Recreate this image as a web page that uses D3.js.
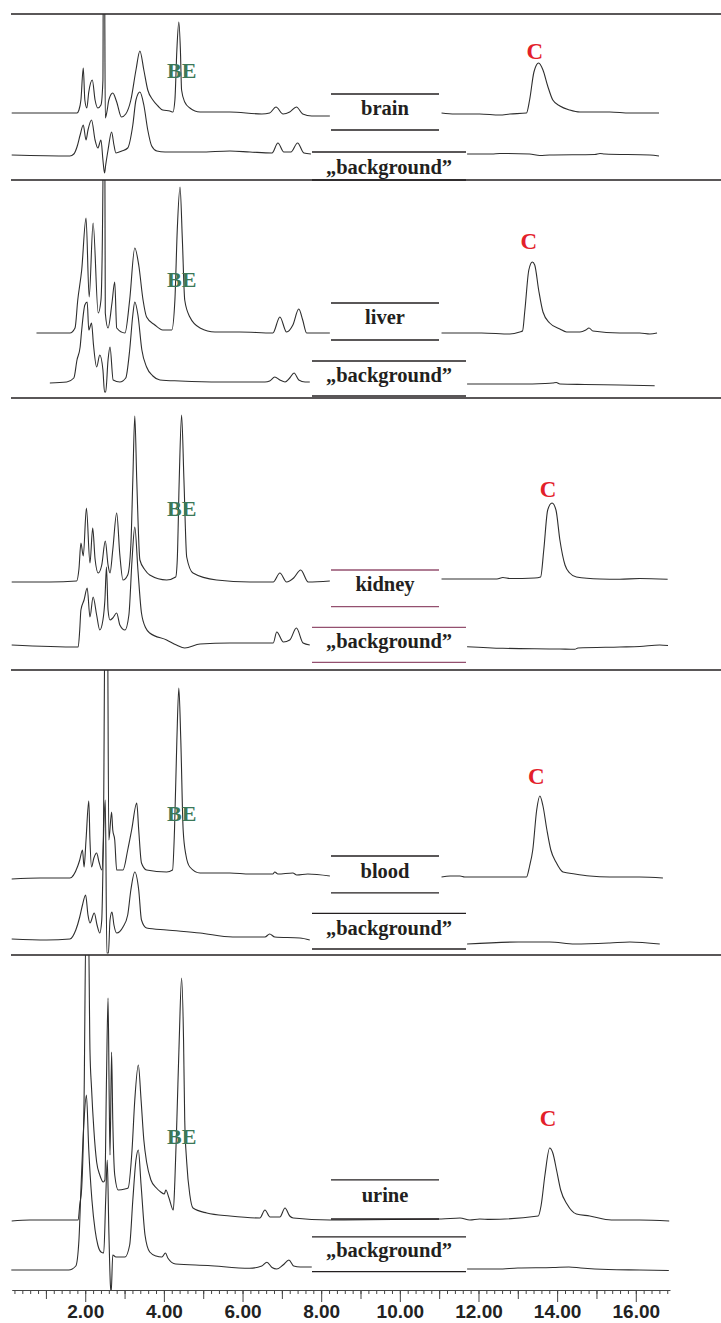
<!DOCTYPE html>
<html>
<head>
<meta charset="utf-8">
<script src="https://cdn.jsdelivr.net/npm/d3@7"></script>
<style>
  body { margin: 0; background: #fff; }
  svg { display: block; }
</style>
</head>
<body>
<div id="chart"></div>
<script>
// chromatogram traces: [retention time (min), signal above baseline (rel. units)]
// null marks where the trace is interrupted by a label
const brainSample = [
  [0.13,0],[0.85,0],[1.79,0],[1.84,3],[1.89,13],[1.95,45],[1.99,13],[2.04,5],[2.09,21],[2.18,33],[2.25,13],[2.32,5],[2.40,8],[2.45,33],[2.46,150],[2.49,150],[2.51,-5],[2.55,1],[2.60,13],[2.70,20],[2.80,11],[2.92,-4],[3.03,-1],[3.16,13],[3.29,43],[3.39,62],[3.49,43],[3.59,23],[3.72,13],[3.85,7],[3.97,3],[4.15,2],[4.23,1],[4.28,13],[4.33,63],[4.38,91],[4.42,63],[4.45,23],[4.53,11],[4.66,5],[4.92,1],[5.68,1],[6.49,-1],[6.69,0],[6.85,6],[7.03,-1],[7.20,1],[7.37,6],[7.53,-1],[7.76,-3],[8.22,-3],
  null,
  [11.06,0],[11.40,-1],[12.03,-1],[12.54,-2],[12.80,-1],[13.22,0],[13.30,13],[13.41,41],[13.53,50],[13.64,43],[13.76,27],[13.89,13],[14.07,7],[14.32,3],[14.58,1],[15.34,1],[15.85,0],[16.59,0]
];
const brainBackground = [
  [0.13,0],[1.61,-1],[1.71,1],[1.79,8],[1.87,20],[1.95,30],[2.02,15],[2.07,25],[2.16,35],[2.25,15],[2.32,7],[2.40,15],[2.45,-5],[2.49,-18],[2.52,-10],[2.58,5],[2.67,23],[2.73,10],[2.78,2],[2.93,4],[3.08,7],[3.21,30],[3.29,55],[3.39,63],[3.49,50],[3.59,25],[3.69,9],[3.82,4],[4.03,3],[4.92,3],[5.68,4],[6.19,3],[6.75,2],[6.90,12],[7.05,3],[7.23,3],[7.40,12],[7.56,2],[7.74,1],
  null,
  [11.71,1],[12.34,1],[12.54,1.5],[13.30,1],[13.56,-0.5],[13.81,0],[14.96,0.5],[15.09,1.5],[15.21,1],[16.36,0],[16.59,-1]
];
const liverSample = [
  [0.76,0],[1.61,0],[1.74,5],[1.81,33],[1.91,63],[2.02,115],[2.10,36],[2.20,110],[2.33,20],[2.40,33],[2.45,150],[2.46,300],[2.49,300],[2.51,20],[2.58,5],[2.68,30],[2.75,51],[2.80,5],[3.01,0],[3.13,33],[3.26,85],[3.36,68],[3.47,33],[3.56,16],[3.77,8],[3.97,3],[4.20,3],[4.28,33],[4.34,103],[4.41,146],[4.47,93],[4.53,33],[4.66,16],[4.92,5],[5.30,1],[5.93,1],[6.77,0],[6.95,16],[7.12,1],[7.28,8],[7.43,24],[7.53,13],[7.63,0],[8.22,0],
  null,
  [11.06,0],[12.08,0],[12.80,-1],[13.05,1],[13.12,2],[13.18,23],[13.28,63],[13.37,71],[13.43,68],[13.53,43],[13.64,21],[13.81,10],[14.07,4],[14.24,1],[14.58,1],[14.73,3],[14.81,5],[14.91,2],[15.59,0],[16.10,0],[16.36,-1],[16.54,0]
];
const liverBackground = [
  [1.10,0],[1.53,1],[1.71,5],[1.79,23],[1.87,36],[1.91,53],[1.99,78],[2.05,81],[2.09,53],[2.16,60],[2.21,38],[2.29,16],[2.37,28],[2.45,13],[2.49,-9],[2.52,-9],[2.58,23],[2.63,36],[2.71,3],[2.88,1],[3.03,5],[3.13,33],[3.21,68],[3.26,81],[3.34,68],[3.44,33],[3.56,16],[3.72,7],[3.90,3],[4.41,2],[5.42,1],[6.57,1],[6.69,2],[6.82,6],[6.95,3],[7.08,1],[7.20,5],[7.31,10],[7.43,3],[7.59,1],[7.71,1],
  null,
  [11.71,-1],[13.05,-1],[13.69,-0.5],[13.89,0],[13.98,0.5],[14.07,-1],[14.70,-1.5],[15.59,-2],[16.48,-2.7]
];
const kidneySample = [
  [0.13,0],[1.10,0],[1.78,1],[1.84,13],[1.89,39],[1.95,26],[2.03,74],[2.12,19],[2.19,54],[2.25,23],[2.33,9],[2.42,17],[2.51,41],[2.58,17],[2.63,9],[2.70,32],[2.80,69],[2.88,27],[2.96,2],[3.08,7],[3.16,37],[3.21,102],[3.26,166],[3.31,102],[3.39,22],[3.52,12],[3.64,7],[4.07,2],[4.30,5],[4.34,22],[4.39,102],[4.45,167],[4.51,102],[4.58,25],[4.74,9],[5.34,2],[6.19,0],[6.78,0],[6.95,9],[7.12,0],[7.30,4],[7.48,12],[7.67,0],[8.22,1],
  null,
  [11.06,3],[12.47,3],[12.62,4.5],[12.80,3.5],[13.43,4],[13.58,5],[13.66,32],[13.76,72],[13.87,79],[13.97,72],[14.07,42],[14.20,17],[14.32,9],[14.49,5],[15.09,3],[15.59,2.7],[16.10,3.5],[16.81,2.7]
];
const kidneyBackground = [
  [0.13,1],[1.82,-1],[1.86,16],[1.89,36],[1.97,46],[2.05,58],[2.12,29],[2.20,49],[2.29,31],[2.37,16],[2.45,26],[2.50,46],[2.54,79],[2.58,36],[2.63,26],[2.70,28],[2.80,33],[2.88,21],[3.01,16],[3.11,31],[3.19,86],[3.26,119],[3.34,76],[3.43,33],[3.54,18],[3.64,13],[4.07,6],[4.32,1],[4.53,-2],[4.92,2],[5.68,3],[6.78,3],[6.87,14],[7.04,4],[7.20,6],[7.37,18],[7.54,3],[7.71,1],
  null,
  [11.71,-0.7],[12.62,-2.3],[14.07,-3],[14.45,-3.3],[14.53,-2],[15.59,-1],[16.10,-0.5],[16.61,1],[16.82,0.5]
];
const bloodSample = [
  [0.13,-1],[0.85,0],[1.61,0],[1.81,12],[1.86,18],[1.93,28],[1.97,11],[2.02,38],[2.09,77],[2.12,38],[2.16,11],[2.22,20],[2.29,25],[2.35,16],[2.42,8],[2.46,38],[2.51,300],[2.56,300],[2.60,38],[2.67,66],[2.70,48],[2.75,38],[2.80,8],[2.96,8],[3.08,28],[3.18,48],[3.31,75],[3.36,48],[3.43,15],[3.56,8],[4.07,6],[4.22,8],[4.27,48],[4.33,138],[4.38,190],[4.43,138],[4.49,48],[4.56,23],[4.66,11],[4.92,5],[5.68,5],[6.19,4],[6.77,4],[6.82,6],[6.90,4],[7.28,5],[7.38,3],[7.66,4],[8.22,2],
  null,
  [11.06,1],[11.28,2],[11.53,2],[11.65,1],[12.54,1],[13.22,1],[13.30,12],[13.38,28],[13.48,68],[13.56,82],[13.64,72],[13.74,48],[13.84,28],[13.97,16],[14.15,6],[14.45,4],[14.83,2],[15.34,1],[16.10,1],[16.69,0]
];
const bloodBackground = [
  [0.13,1],[1.02,0],[1.61,1],[1.76,10],[1.86,23],[1.93,35],[2.01,45],[2.07,25],[2.12,17],[2.23,27],[2.30,15],[2.37,7],[2.42,20],[2.47,110],[2.51,140],[2.55,-13],[2.59,-13],[2.63,20],[2.68,28],[2.73,15],[2.80,7],[2.96,13],[3.08,25],[3.16,50],[3.26,68],[3.36,50],[3.43,20],[3.56,12],[4.07,10],[4.92,7],[5.75,3],[6.57,3],[6.69,6],[6.82,3],[7.46,2],[7.71,0],
  null,
  [11.71,-4],[13.01,-2],[13.81,-2],[14.45,-4],[15.34,-3],[15.85,-2],[16.61,-4]
];
const urineSample = [
  [0.13,-1],[0.59,0],[1.82,0],[1.86,15],[1.91,32],[1.97,120],[2.02,300],[2.08,300],[2.12,170],[2.16,132],[2.22,90],[2.29,58],[2.37,45],[2.46,38],[2.50,40],[2.54,140],[2.58,222],[2.61,120],[2.63,65],[2.67,168],[2.70,100],[2.75,45],[2.84,30],[3.01,31],[3.09,32],[3.19,70],[3.26,120],[3.35,155],[3.42,120],[3.49,80],[3.56,58],[3.67,40],[3.81,32],[3.92,28],[4.01,26],[4.05,30],[4.13,22],[4.24,10],[4.28,40],[4.33,100],[4.39,180],[4.45,242],[4.50,180],[4.53,100],[4.58,58],[4.66,25],[4.74,12],[5.09,7],[5.68,4],[6.44,2],[6.57,10],[6.70,3],[6.95,3],[7.08,12],[7.20,4],[7.29,2],[8.22,0],
  [11.06,1],[11.53,2],[11.78,0],[12.03,1],[12.29,0.6],[13.52,4],[13.59,14],[13.69,45],[13.81,72],[13.89,67],[13.99,49],[14.09,30],[14.25,16],[14.49,6],[14.83,4],[15.38,0],[16.10,0],[16.85,-1]
];
const urineBackground = [
  [0.12,0],[1.58,0],[1.76,4],[1.84,30],[1.89,80],[1.97,150],[2.03,175],[2.09,120],[2.17,70],[2.25,40],[2.32,25],[2.40,18],[2.47,17],[2.52,70],[2.56,110],[2.60,40],[2.64,-15],[2.66,-22],[2.70,15],[2.78,13],[3.01,13],[3.13,25],[3.21,70],[3.29,110],[3.35,120],[3.42,85],[3.52,35],[3.64,18],[3.80,14],[3.95,13],[4.04,17],[4.10,12],[4.30,6],[5.12,4.5],[6.18,1.7],[6.49,4],[6.62,7.7],[6.75,2.5],[6.87,1],[7.03,5],[7.18,10],[7.30,4],[7.47,3],[7.76,3],
  null,
  [11.71,1],[12.5,1],[13.0,2],[13.9,2.5],[14.3,3],[14.6,2],[15.3,0.5],[16.1,0],[16.84,-0.5]
];

const sampleNames = ['brain', 'liver', 'kidney', 'blood', 'urine'];
const backgroundName = '\u201Ebackground\u201D';
const peakNames = ['BE', 'C'];
const sampleTraces = [brainSample, liverSample, kidneySample, bloodSample, urineSample];
const backgroundTraces = [brainBackground, liverBackground, kidneyBackground, bloodBackground, urineBackground];
const labelledTicks = [2, 4, 6, 8, 10, 12, 14, 16];

// page layout, px
const W = 721, H = 1323;
const layout = [
  {top: 14,  bottom: 180,  sBase: 113,  bBase: 155,  sRule: [94, 130],      sText: 115,    bRule: [152, 180],      bText: 174,   be: 78,     c: [534.7, 59.3]},
  {top: 180, bottom: 398,  sBase: 333,  bBase: 383,  sRule: [303, 340],     sText: 324,    bRule: [361, 396],      bText: 382,   be: 286.7,  c: [528.7, 249]},
  {top: 398, bottom: 670,  sBase: 582,  bBase: 646,  sRule: [570, 606.7],   sText: 591,    bRule: [627.3, 662.3],  bText: 648.3, be: 516,    c: [548, 496.7], rule: '#94506f'},
  {top: 670, bottom: 955,  sBase: 878,  bBase: 940,  sRule: [856, 892.8],   sText: 877.7,  bRule: [913.4, 949],    bText: 935,   be: 821,    c: [536.2, 783.9]},
  {top: 955, bottom: 1290, sBase: 1220, bBase: 1270, sRule: [1179.8, 1219], sText: 1201.6, bRule: [1236.8, 1271.6], bText: 1257, be: 1144.3, c: [548, 1126.4]}
];
const axisY = 1290;
const ink = '#231f20';
const serif = "'Liberation Serif', 'Times New Roman', serif";

const svg = d3.select('#chart').append('svg')
    .attr('width', W)
    .attr('height', H)
    .attr('viewBox', [0, 0, W, H]);

const x = d3.scaleLinear().domain([0.13, 16.87]).range([11.7, 670]);

sampleNames.forEach((name, i) => {
    const L = layout[i];
    const clipId = 'clip' + i;

    svg.append('clipPath').attr('id', clipId)
        .append('rect')
        .attr('x', 0).attr('y', L.top)
        .attr('width', W).attr('height', L.bottom - L.top);

    // separator above the panel
    svg.append('line')
        .attr('x1', 11).attr('x2', W)
        .attr('y1', L.top).attr('y2', L.top)
        .attr('stroke', ink).attr('stroke-width', 1.3);

    const traces = [[sampleTraces[i], L.sBase], [backgroundTraces[i], L.bBase]];
    traces.forEach(([data, base]) => {
        const y = d3.scaleLinear().domain([0, 100]).range([base, base - 100]);
        const line = d3.line()
            .defined(d => d !== null)
            .curve(d3.curveMonotoneX)
            .x(d => x(d[0]))
            .y(d => y(d[1]));
        svg.append('path')
            .datum(data)
            .attr('clip-path', `url(#${clipId})`)
            .attr('fill', 'none')
            .attr('stroke', '#2e2e2e')
            .attr('stroke-width', 1.1)
            .attr('stroke-linejoin', 'round')
            .attr('d', line);
    });

    const ruleColor = L.rule || ink;
    const labels = [
        {text: name, x1: 331, x2: 439, rule: L.sRule, base: L.sText},
        {text: backgroundName, x1: 312, x2: 466, rule: L.bRule, base: L.bText}
    ];
    labels.forEach(lab => {
        svg.append('g').selectAll('line')
            .data(lab.rule)
            .join('line')
            .attr('x1', lab.x1).attr('x2', lab.x2)
            .attr('y1', d => d).attr('y2', d => d)
            .attr('stroke', ruleColor)
            .attr('stroke-width', 1.3);
        svg.append('text')
            .attr('x', (lab.x1 + lab.x2) / 2)
            .attr('y', lab.base)
            .attr('text-anchor', 'middle')
            .attr('font-family', serif)
            .attr('font-weight', 'bold')
            .attr('font-size', 20.5)
            .attr('fill', ink)
            .text(lab.text);
    });

    svg.append('text')
        .attr('x', 181.7).attr('y', L.be)
        .attr('text-anchor', 'middle')
        .attr('font-family', serif)
        .attr('font-weight', 'bold')
        .attr('font-size', 22)
        .attr('fill', '#3b7858')
        .text(peakNames[0]);

    svg.append('text')
        .attr('x', L.c[0]).attr('y', L.c[1])
        .attr('text-anchor', 'middle')
        .attr('font-family', serif)
        .attr('font-weight', 'bold')
        .attr('font-size', 23)
        .attr('fill', '#e3202a')
        .text(peakNames[1]);
});

// time axis
const minorTicks = d3.range(1, 85).map(i => i / 5);
const unitTicks = d3.range(1, 17).filter(v => v % 2 === 1);

const axisG = svg.append('g').attr('transform', `translate(0,${axisY})`);

axisG.append('g')
    .call(d3.axisBottom(x).tickValues(minorTicks).tickSize(4).tickSizeOuter(0).tickFormat(''));
axisG.append('g')
    .call(d3.axisBottom(x).tickValues(unitTicks).tickSize(9).tickSizeOuter(0).tickFormat(''))
    .call(g => g.select('.domain').remove());
axisG.append('g')
    .call(d3.axisBottom(x).tickValues(labelledTicks).tickSize(12).tickSizeOuter(0).tickFormat(d3.format('.2f')))
    .call(g => g.select('.domain').remove())
    .call(g => g.selectAll('text')
        .attr('font-family', "'Liberation Sans', Arial, sans-serif")
        .attr('font-weight', 'bold')
        .attr('font-size', 19)
        .attr('fill', '#222'));

axisG.selectAll('.domain, .tick line').attr('stroke', '#444').attr('stroke-width', 1);
</script>
</body>
</html>
